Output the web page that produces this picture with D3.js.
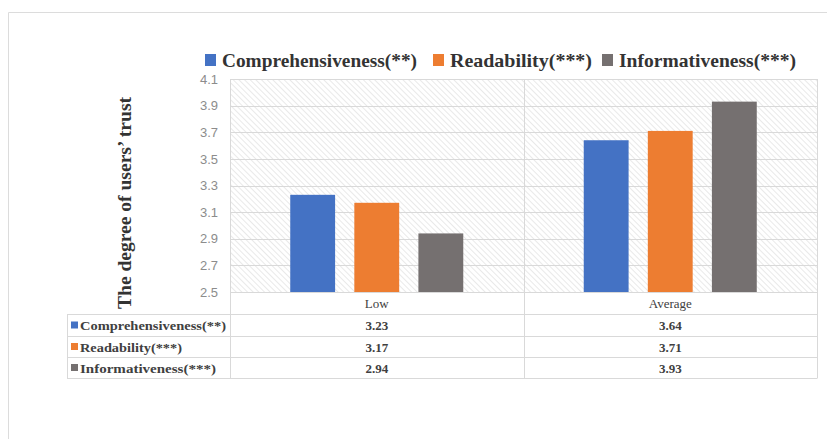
<!DOCTYPE html>
<html>
<head>
<meta charset="utf-8">
<script src="https://cdnjs.cloudflare.com/ajax/libs/d3/7.8.5/d3.min.js"></script>
<style>
  body { margin: 0; background: #fff; }
  svg { display: block; }
</style>
</head>
<body>
<div id="chart"></div>
<script>
// data
var categories = ["Low", "Average"];
var seriesNames = ["Comprehensiveness(**)", "Readability(***)", "Informativeness(***)"];
var comprehensiveness = [3.23, 3.64];
var readability = [3.17, 3.71];
var informativeness = [2.94, 3.93];
var yTicks = [2.5, 2.7, 2.9, 3.1, 3.3, 3.5, 3.7, 3.9, 4.1];
var colours = ["#4472C4", "#ED7D31", "#757070"];

var allSeries = [comprehensiveness, readability, informativeness];

var width = 827, height = 439;
var margin = { top: 79, left: 230, right: 10, bottom: 147 };
var serif = "'Liberation Serif', 'DejaVu Serif', serif";

var svg = d3.select('#chart')
    .append('svg')
    .attr('width', width)
    .attr('height', height);

// hatch pattern for the plot background
var defs = svg.append('defs');
defs.append('pattern')
    .attr('id', 'hatch')
    .attr('patternUnits', 'userSpaceOnUse')
    .attr('width', 4)
    .attr('height', 4)
    .attr('patternTransform', 'rotate(-45)')
    .append('line')
    .attr('x1', 0).attr('y1', 0)
    .attr('x2', 0).attr('y2', 4)
    .attr('stroke', '#d4d4d4')
    .attr('stroke-width', 1);

// outer frame
svg.append('path')
    .attr('d', 'M8.5,' + height + 'V12.5H' + width)
    .attr('fill', 'none')
    .attr('stroke', '#dcdcdc');

var plotW = width - margin.left - margin.right;   // 587
var y0 = 292, y1 = 79;

var x_scale = d3.scaleBand()
    .domain(categories)
    .range([margin.left, margin.left + plotW])
    .padding(0);

var x_inner = d3.scaleBand()
    .domain(d3.range(seriesNames.length))
    .range([0, x_scale.bandwidth()])
    .paddingInner(0.3)
    .paddingOuter(0.94);

var y_scale = d3.scaleLinear()
    .domain([2.5, 4.1])
    .range([y0, y1]);

var g = svg.append('g');

g.append('rect')
    .attr('x', margin.left)
    .attr('y', y1)
    .attr('width', plotW)
    .attr('height', y0 - y1)
    .attr('fill', 'url(#hatch)');

// horizontal gridlines
g.selectAll('.grid')
    .data(yTicks)
    .enter()
    .append('line')
    .attr('class', 'grid')
    .attr('x1', margin.left)
    .attr('x2', margin.left + plotW)
    .attr('y1', d => Math.round(y_scale(d)) + 0.5)
    .attr('y2', d => Math.round(y_scale(d)) + 0.5)
    .attr('stroke', '#d9d9d9');

// bars
categories.forEach(function (cat, ci) {
    allSeries.forEach(function (vals, si) {
        g.append('rect')
            .attr('x', x_scale(cat) + x_inner(si))
            .attr('y', y_scale(vals[ci]))
            .attr('width', x_inner.bandwidth())
            .attr('height', y0 - y_scale(vals[ci]))
            .attr('fill', colours[si]);
    });
});

// y axis tick labels
var y_axis = d3.axisLeft(y_scale)
    .tickValues(yTicks)
    .tickSize(0)
    .tickPadding(12)
    .tickFormat(d3.format('.1f'));

svg.append('g')
    .attr('class', 'y axis')
    .attr('transform', 'translate(' + margin.left + ',0)')
    .call(y_axis)
    .call(s => s.select('.domain').remove())
    .selectAll('text')
    .attr('fill', '#8c8c8c')
    .style('font-family', "'Liberation Sans', Arial, sans-serif")
    .style('font-size', '13px');

// y axis title
svg.append('text')
    .attr('transform', 'translate(131,203) rotate(-90)')
    .attr('text-anchor', 'middle')
    .attr('textLength', 212)
    .attr('lengthAdjust', 'spacingAndGlyphs')
    .style('font-family', serif)
    .style('font-weight', 'bold')
    .style('font-size', '19px')
    .attr('fill', '#333')
    .text('The degree of users\u2019 trust');

// data table
var tableLeft = 67;
var rowTop = [292, 314, 336, 357, 378];
var lineCol = '#d9d9d9';
var tg = svg.append('g');

// horizontal table lines
tg.selectAll('.hline')
    .data(rowTop.slice(1))
    .enter()
    .append('line')
    .attr('x1', tableLeft)
    .attr('x2', margin.left + plotW)
    .attr('y1', d => d + 0.5)
    .attr('y2', d => d + 0.5)
    .attr('stroke', lineCol);

// vertical lines (plot + table)
var vx = [margin.left, x_scale('Average'), margin.left + plotW];
tg.selectAll('.vline')
    .data(vx)
    .enter()
    .append('line')
    .attr('x1', d => Math.round(d) + 0.5)
    .attr('x2', d => Math.round(d) + 0.5)
    .attr('y1', y1)
    .attr('y2', rowTop[4] + 0.5)
    .attr('stroke', lineCol);

tg.append('line')
    .attr('x1', tableLeft + 0.5).attr('x2', tableLeft + 0.5)
    .attr('y1', rowTop[1]).attr('y2', rowTop[4] + 0.5)
    .attr('stroke', lineCol);

// category header
tg.selectAll('.cat')
    .data(categories)
    .enter()
    .append('text')
    .attr('x', d => x_scale(d) + x_scale.bandwidth() / 2)
    .attr('y', (rowTop[0] + rowTop[1]) / 2 + 5)
    .attr('text-anchor', 'middle')
    .style('font-family', serif)
    .style('font-size', '13px')
    .attr('fill', '#404040')
    .text(d => d);

// row labels with keys and values
var labelLen = [146, 102, 136];
seriesNames.forEach(function (name, si) {
    var cy = (rowTop[si + 1] + rowTop[si + 2]) / 2;
    tg.append('rect')
        .attr('x', 71)
        .attr('y', cy - 3.5)
        .attr('width', 7)
        .attr('height', 7)
        .attr('fill', colours[si]);
    tg.append('text')
        .attr('x', 80)
        .attr('y', cy + 5)
        .attr('textLength', labelLen[si])
        .attr('lengthAdjust', 'spacingAndGlyphs')
        .style('font-family', serif)
        .style('font-weight', 'bold')
        .style('font-size', '13px')
        .attr('fill', '#404040')
        .text(name);
    categories.forEach(function (cat, ci) {
        tg.append('text')
            .attr('x', x_scale(cat) + x_scale.bandwidth() / 2)
            .attr('y', cy + 5)
            .attr('text-anchor', 'middle')
            .style('font-family', serif)
            .style('font-weight', 'bold')
            .style('font-size', '13px')
            .attr('fill', '#404040')
            .text(allSeries[si][ci].toFixed(2));
    });
});

// legend
var legendX = [205, 433, 602];
var legendLen = [195, 142, 177];
var lg = svg.append('g');
seriesNames.forEach(function (name, si) {
    lg.append('rect')
        .attr('x', legendX[si])
        .attr('y', 54)
        .attr('width', 11)
        .attr('height', 12)
        .attr('fill', colours[si]);
    lg.append('text')
        .attr('x', legendX[si] + 17)
        .attr('y', 67)
        .attr('textLength', legendLen[si])
        .attr('lengthAdjust', 'spacingAndGlyphs')
        .style('font-family', serif)
        .style('font-weight', 'bold')
        .style('font-size', '19px')
        .attr('fill', '#333')
        .text(name);
});
</script>
</body>
</html>
